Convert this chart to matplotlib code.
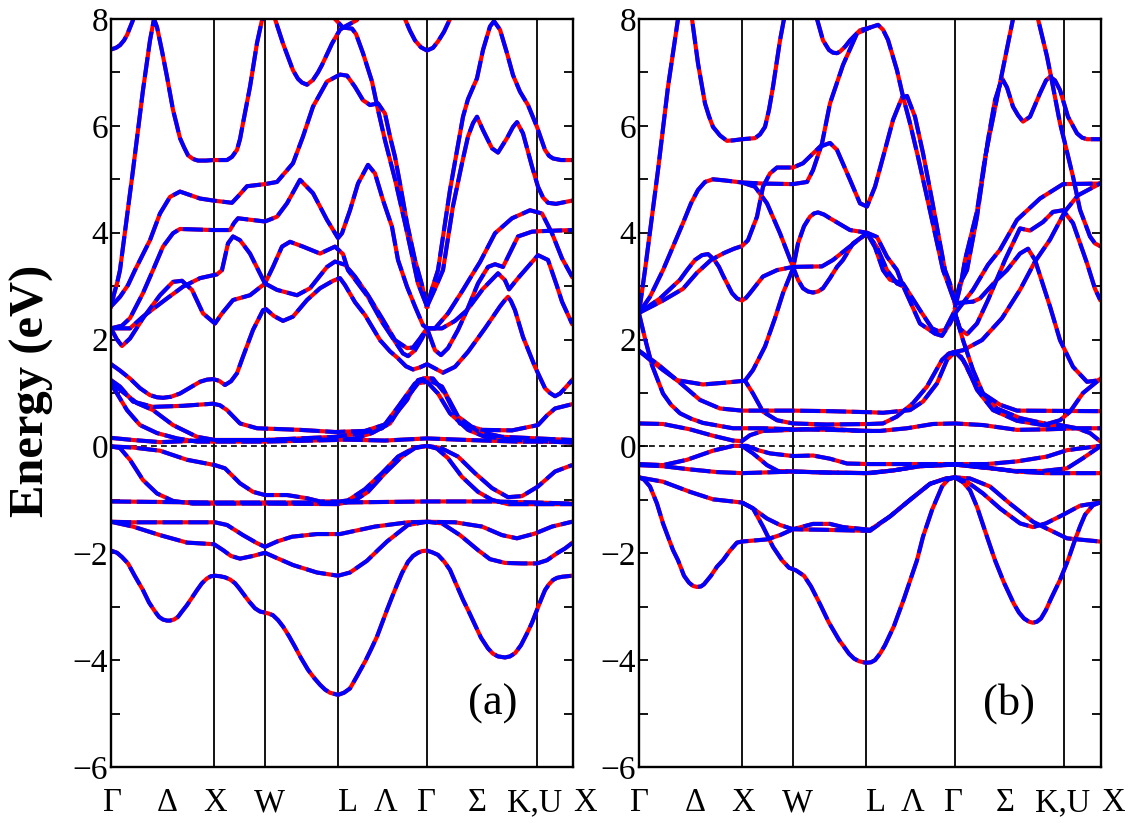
import matplotlib
matplotlib.use('Agg')
import matplotlib.pyplot as plt

plt.rcParams['font.family'] = ['Liberation Serif', 'DejaVu Serif']

# high symmetry points along the path
sym_a = [103, 154, 227, 316, 426]
sym_b = [103, 154, 227, 316, 425]
label_names = ['Γ', 'Δ', 'X', 'W', 'L', 'Λ', 'Γ', 'Σ', 'K,U', 'X']
label_k = [1, 56, 104, 158, 237, 274, 315, 366, 424, 474]
y_major = [-6, -4, -2, 0, 2, 4, 6, 8]
y_minor = [-5, -3, -1, 1, 3, 5, 7]

# panel (a) bands
a01_k = [0, 6, 11, 17, 24, 32, 38, 44, 48, 52, 56, 59, 63, 67, 71, 76, 81, 86, 91, 96, 100, 104, 109, 114, 119, 124, 128, 132, 138, 144, 149, 154, 158, 162, 167, 172, 178, 184, 190, 197, 203, 209, 214, 219, 227, 233, 239, 246, 254, 260, 266, 271, 276, 281, 286, 291, 297, 302, 307, 311, 316, 321, 327, 333, 339, 345, 352, 358, 364, 370, 377, 382, 387, 394, 399, 404, 410, 416, 421, 426, 430, 434, 438, 442, 446, 451, 456, 461]
a01_e = [-1.95, -1.99, -2.07, -2.19, -2.43, -2.69, -2.92, -3.09, -3.19, -3.24, -3.26, -3.26, -3.24, -3.19, -3.09, -2.97, -2.83, -2.69, -2.56, -2.47, -2.43, -2.42, -2.43, -2.45, -2.49, -2.56, -2.65, -2.75, -2.9, -3.03, -3.09, -3.11, -3.13, -3.16, -3.25, -3.37, -3.55, -3.75, -3.96, -4.18, -4.33, -4.46, -4.55, -4.61, -4.65, -4.61, -4.53, -4.3, -4.03, -3.8, -3.56, -3.31, -3.06, -2.82, -2.59, -2.37, -2.16, -2.05, -1.99, -1.96, -1.95, -1.98, -2.03, -2.15, -2.31, -2.57, -2.87, -3.1, -3.34, -3.58, -3.78, -3.88, -3.93, -3.95, -3.93, -3.87, -3.72, -3.5, -3.3, -3.06, -2.87, -2.69, -2.58, -2.5, -2.46, -2.44, -2.43, -2.42]
a02_k = [0, 22, 49, 76, 103, 112, 120, 129, 142, 154, 166, 182, 206, 227, 239, 256, 267, 276, 297, 316, 331, 349, 367, 379, 394, 411, 426, 436, 446, 454, 461]
a02_e = [-1.41, -1.5, -1.66, -1.8, -1.83, -1.94, -2.05, -2.1, -2.05, -1.99, -2.09, -2.22, -2.36, -2.42, -2.36, -2.14, -1.94, -1.78, -1.47, -1.41, -1.44, -1.66, -1.94, -2.11, -2.18, -2.19, -2.19, -2.13, -2.0, -1.91, -1.81]
a03_k = [0, 22, 79, 104, 116, 132, 146, 154, 166, 181, 206, 229, 264, 297, 316, 344, 371, 391, 406, 424, 441, 461]
a03_e = [-1.41, -1.42, -1.42, -1.42, -1.47, -1.66, -1.81, -1.88, -1.78, -1.69, -1.64, -1.64, -1.5, -1.42, -1.41, -1.42, -1.5, -1.66, -1.72, -1.63, -1.5, -1.41]
a04_k = [0, 50, 104, 154, 227, 316, 380, 426, 461]
a04_e = [-1.03, -1.04, -1.05, -1.05, -1.05, -1.03, -1.03, -1.05, -1.07]
a05_k = [0, 9, 19, 32, 46, 62, 82, 104, 154, 227, 244, 257, 274, 291, 304, 316, 326, 337, 351, 367, 381, 397, 424, 461]
a05_e = [0.0, -0.03, -0.25, -0.63, -0.88, -1.02, -1.07, -1.07, -1.07, -1.08, -1.01, -0.85, -0.5, -0.19, -0.03, 0.01, -0.04, -0.22, -0.57, -0.85, -1.0, -1.08, -1.08, -1.08]
a06_k = [0, 22, 49, 76, 104, 114, 129, 142, 154, 176, 196, 209, 229, 237, 254, 271, 287, 304, 316, 330, 347, 364, 381, 397, 411, 427, 444, 461]
a06_e = [0.0, -0.02, -0.08, -0.25, -0.35, -0.41, -0.69, -0.85, -0.91, -0.91, -0.97, -1.03, -1.03, -1.01, -0.8, -0.5, -0.19, -0.02, 0.01, -0.03, -0.19, -0.5, -0.78, -0.95, -0.93, -0.75, -0.47, -0.35]
a07_k = [0, 22, 49, 104, 154, 229, 274, 316, 357, 407, 461]
a07_e = [0.16, 0.12, 0.08, 0.12, 0.12, 0.13, 0.11, 0.15, 0.12, 0.09, 0.09]
a08_k = [0, 6, 16, 29, 46, 66, 86, 104, 154, 224, 244, 261, 279, 294, 307, 316, 327, 339, 357, 374, 407, 461]
a08_e = [1.17, 0.99, 0.68, 0.4, 0.25, 0.15, 0.09, 0.09, 0.09, 0.12, 0.15, 0.25, 0.43, 0.87, 1.18, 1.21, 0.99, 0.62, 0.31, 0.18, 0.12, 0.07]
a09_k = [0, 9, 26, 42, 62, 86, 104, 154, 224, 251, 271, 287, 304, 316, 331, 347, 367, 391, 461]
a09_e = [1.17, 1.06, 0.81, 0.68, 0.4, 0.18, 0.12, 0.12, 0.18, 0.25, 0.34, 0.74, 1.18, 1.26, 1.12, 0.56, 0.28, 0.18, 0.12]
a10_k = [0, 9, 22, 42, 72, 102, 109, 116, 129, 146, 189, 224, 254, 277, 296, 307, 314, 322, 334, 349, 371, 401, 427, 436, 444, 461]
a10_e = [1.24, 1.12, 0.84, 0.74, 0.76, 0.8, 0.77, 0.68, 0.43, 0.34, 0.31, 0.27, 0.29, 0.43, 0.87, 1.24, 1.28, 1.27, 0.99, 0.43, 0.31, 0.3, 0.4, 0.58, 0.71, 0.79]
a11_k = [0, 9, 19, 29, 39, 46, 52, 60, 69, 79, 89, 96, 102, 108, 114, 120, 126, 132, 142, 152, 155, 163, 172, 182, 196, 209, 222, 229, 234, 244, 254, 269, 279, 287, 295, 302, 309, 316, 324, 332, 344, 357, 374, 389, 394, 397, 400, 404, 412, 424, 434, 439, 444, 449, 454, 461]
a11_e = [1.54, 1.42, 1.27, 1.09, 0.96, 0.92, 0.91, 0.93, 0.99, 1.1, 1.21, 1.25, 1.26, 1.23, 1.15, 1.22, 1.37, 1.68, 2.18, 2.55, 2.57, 2.44, 2.35, 2.43, 2.74, 2.96, 3.1, 3.15, 3.02, 2.7, 2.46, 1.99, 1.78, 1.65, 1.5, 1.44, 1.48, 1.54, 1.46, 1.38, 1.49, 1.77, 2.21, 2.62, 2.74, 2.8, 2.72, 2.55, 2.05, 1.49, 1.09, 1.0, 0.94, 0.99, 1.09, 1.24]
a12_k = [0, 6, 11, 19, 32, 49, 62, 71, 81, 92, 104, 111, 122, 139, 154, 166, 186, 199, 216, 224, 234, 244, 257, 271, 284, 296, 302, 309, 316]
a12_e = [2.21, 2.0, 1.88, 2.02, 2.4, 2.83, 3.08, 3.1, 2.93, 2.49, 2.3, 2.49, 2.74, 2.83, 3.05, 2.93, 2.83, 2.96, 3.36, 3.46, 3.4, 3.18, 2.83, 2.4, 1.99, 1.84, 1.85, 2.02, 2.21]
a13_k = [0, 19, 32, 56, 72, 89, 106, 111, 117, 122, 129, 139, 154, 162, 171, 179, 192, 209, 224, 232, 237, 257, 271, 282, 292, 297, 304, 311, 316]
a13_e = [2.21, 2.21, 2.43, 2.77, 2.99, 3.15, 3.22, 3.3, 3.8, 3.93, 3.86, 3.61, 3.05, 3.36, 3.74, 3.83, 3.74, 3.61, 3.74, 3.6, 3.3, 2.8, 2.33, 2.02, 1.74, 1.69, 1.8, 2.02, 2.21]
a14_k = [0, 9, 17, 24, 39, 49, 59, 69, 89, 103, 121, 128, 136, 154, 166, 182, 192, 202, 216, 229, 236, 244, 252, 259, 267, 274, 279, 284, 289, 296, 304, 311, 316]
a14_e = [2.62, 2.8, 3.02, 3.3, 3.86, 4.36, 4.67, 4.77, 4.64, 4.6, 4.56, 4.7, 4.87, 4.91, 4.95, 5.3, 5.8, 6.36, 6.83, 6.96, 6.94, 6.73, 6.48, 6.39, 6.42, 6.23, 5.8, 5.42, 4.92, 4.18, 3.49, 3.02, 2.62]
a15_k = [0, 11, 19, 32, 42, 52, 62, 69, 102, 119, 123, 127, 154, 166, 176, 189, 202, 216, 227, 231, 239, 247, 257, 264, 272, 281, 287, 296, 304, 312, 316]
a15_e = [2.21, 2.26, 2.4, 2.87, 3.3, 3.74, 3.99, 4.07, 4.05, 4.05, 4.18, 4.27, 4.21, 4.3, 4.55, 4.99, 4.74, 4.24, 3.9, 3.99, 4.42, 4.92, 5.27, 5.11, 4.61, 4.11, 3.49, 2.99, 2.62, 2.27, 2.21]
a16_k = [0, 3, 6, 9, 22, 32, 39, 43, 46, 51, 56, 62, 66, 69, 73, 77, 82, 87, 95, 102, 116, 121, 126, 129, 132, 139, 146, 151, 155, 159, 164, 172, 182, 187, 191, 196, 202, 207, 211, 221, 229, 234, 246, 254, 285, 294, 299, 304, 310, 316, 322, 327, 333, 339, 348]
a16_e = [2.62, 2.85, 3.05, 3.3, 5.17, 6.67, 7.6, 8.0, 7.85, 7.4, 6.92, 6.3, 6.0, 5.77, 5.6, 5.45, 5.38, 5.35, 5.35, 5.36, 5.36, 5.42, 5.55, 5.75, 6.05, 6.73, 7.55, 7.98, 8.4, 8.4, 8.0, 7.54, 7.04, 6.88, 6.81, 6.77, 6.86, 7.0, 7.14, 7.54, 7.8, 7.86, 7.98, 8.3, 8.6, 8.0, 7.78, 7.6, 7.47, 7.41, 7.46, 7.58, 7.76, 8.0, 8.6]
a17_k = [0, 5, 9, 13, 16, 22, 30, 215, 220, 224, 232, 241, 245, 252, 261, 267, 274, 284, 294, 302, 307, 316]
a17_e = [7.43, 7.46, 7.51, 7.6, 7.7, 7.98, 9.0, 9.0, 8.3, 8.0, 7.84, 7.82, 7.72, 7.36, 6.83, 6.3, 5.73, 5.0, 4.18, 3.49, 3.05, 2.62]
a18_k = [316, 321, 327, 339, 352, 357, 366, 372, 379, 383, 389, 396, 402, 409, 417, 426, 434, 438, 442, 450, 461]
a18_e = [2.62, 2.95, 3.3, 4.8, 6.17, 6.5, 6.89, 7.42, 7.86, 7.96, 7.8, 7.36, 6.95, 6.64, 6.39, 5.98, 5.55, 5.44, 5.39, 5.36, 5.36]
a19_k = [316, 324, 332, 342, 351, 357, 362, 366, 372, 381, 387, 396, 402, 406, 412, 421, 427, 432, 437, 445, 461]
a19_e = [2.62, 2.95, 3.3, 4.5, 5.3, 5.8, 6.05, 6.17, 5.92, 5.58, 5.5, 5.77, 5.98, 6.07, 5.86, 5.24, 4.86, 4.66, 4.56, 4.54, 4.6]
a20_k = [316, 324, 337, 352, 364, 369, 384, 401, 419, 431, 441, 451, 461]
a20_e = [2.21, 2.21, 2.49, 2.93, 3.3, 3.45, 3.99, 4.27, 4.42, 4.36, 3.99, 3.52, 3.18]
a21_k = [316, 331, 344, 356, 372, 387, 394, 398, 407, 414, 427, 437, 446, 451, 461]
a21_e = [2.21, 2.21, 2.35, 2.55, 2.95, 3.24, 3.11, 2.94, 3.15, 3.3, 3.58, 3.49, 3.0, 2.71, 2.3]
a22_k = [316, 324, 330, 337, 347, 356, 367, 377, 384, 392, 397, 407, 421, 431, 461]
a22_e = [2.21, 1.8, 1.71, 1.84, 2.18, 2.55, 3.05, 3.36, 3.41, 3.36, 3.55, 3.93, 4.02, 4.03, 4.05]

# panel (b) bands
b01_k = [0, 5, 11, 18, 24, 34, 39, 45, 50, 54, 58, 62, 65, 72, 78, 84, 91, 98, 103, 128, 141, 154, 174, 191, 204, 231, 251, 271, 291, 307, 316, 331, 351, 371, 394, 407, 428, 461]
b01_e = [-0.58, -0.62, -0.75, -1.07, -1.44, -1.94, -2.13, -2.42, -2.55, -2.61, -2.63, -2.62, -2.58, -2.42, -2.25, -2.13, -1.95, -1.8, -1.78, -1.74, -1.66, -1.55, -1.45, -1.45, -1.51, -1.56, -1.31, -1.0, -0.7, -0.6, -0.58, -0.6, -0.75, -1.07, -1.41, -1.53, -1.72, -1.78]
b02_k = [0, 24, 51, 74, 103, 114, 128, 141, 154, 184, 231, 251, 271, 291, 307, 316, 328, 344, 361, 381, 394, 407, 424, 441, 461]
b02_e = [-0.58, -0.66, -0.85, -0.99, -1.05, -1.16, -1.35, -1.47, -1.55, -1.56, -1.58, -1.31, -1.0, -0.7, -0.6, -0.58, -0.66, -0.88, -1.16, -1.44, -1.51, -1.44, -1.28, -1.11, -1.05]
b03_k = [103, 114, 124, 134, 143, 150, 157, 165, 172, 181, 190, 200, 210, 215, 220, 227, 232, 236, 241, 246, 255, 265, 278, 284, 293, 303, 309, 316, 324, 331, 338, 348, 356, 365, 375, 380, 385, 390, 394, 398, 402, 407, 412, 421, 429, 436, 441, 446, 454, 461]
b03_e = [-1.05, -1.16, -1.5, -1.88, -2.13, -2.27, -2.32, -2.42, -2.62, -2.95, -3.3, -3.62, -3.88, -3.97, -4.02, -4.05, -4.04, -4.0, -3.88, -3.72, -3.36, -2.85, -2.13, -1.69, -1.19, -0.75, -0.62, -0.58, -0.67, -0.82, -1.13, -1.69, -2.13, -2.55, -2.95, -3.11, -3.22, -3.28, -3.3, -3.28, -3.22, -3.06, -2.85, -2.5, -2.13, -1.75, -1.5, -1.28, -1.1, -1.05]
b04_k = [0, 24, 51, 78, 103, 138, 154, 191, 231, 254, 281, 316, 354, 377, 407, 461]
b04_e = [-0.35, -0.37, -0.43, -0.48, -0.5, -0.48, -0.47, -0.49, -0.5, -0.45, -0.37, -0.34, -0.41, -0.47, -0.5, -0.5]
b05_k = [0, 24, 48, 74, 94, 108, 119, 131, 154, 174, 191, 208, 231, 288, 316, 348, 378, 408, 428, 461]
b05_e = [-0.33, -0.35, -0.25, -0.08, 0.01, 0.01, -0.07, -0.13, -0.18, -0.17, -0.23, -0.32, -0.33, -0.33, -0.33, -0.33, -0.28, -0.19, -0.07, 0.01]
b06_k = [103, 114, 128, 139, 154, 190, 227, 254, 281, 316, 351, 377, 404, 428, 444, 461]
b06_e = [0.01, -0.13, -0.35, -0.46, -0.47, -0.49, -0.5, -0.45, -0.37, -0.34, -0.41, -0.46, -0.46, -0.41, -0.22, 0.0]
b07_k = [0, 24, 51, 74, 94, 103, 111, 124, 154, 184, 221, 241, 268, 294, 316, 344, 378, 408, 438, 461]
b07_e = [0.43, 0.42, 0.32, 0.2, 0.11, 0.1, 0.21, 0.29, 0.31, 0.34, 0.29, 0.29, 0.34, 0.42, 0.43, 0.4, 0.31, 0.32, 0.34, 0.34]
b08_k = [0, 11, 24, 38, 64, 84, 106, 114, 124, 138, 154, 188, 231, 244, 258, 274, 288, 303, 310, 316, 322, 328, 338, 354, 378, 404, 421, 438, 451, 461]
b08_e = [1.79, 1.62, 1.43, 1.24, 1.16, 1.19, 1.23, 0.99, 0.65, 0.49, 0.43, 0.41, 0.42, 0.43, 0.56, 0.81, 1.12, 1.62, 1.74, 1.77, 1.68, 1.49, 1.06, 0.68, 0.48, 0.4, 0.4, 0.34, 0.25, 0.1]
b09_k = [0, 6, 13, 24, 32, 41, 52, 64, 94, 124, 154, 191, 231]
b09_e = [2.49, 2.02, 1.52, 0.99, 0.78, 0.62, 0.52, 0.44, 0.34, 0.34, 0.32, 0.31, 0.29]
b10_k = [0, 18, 38, 61, 81, 103, 154, 191, 231, 244, 271, 284, 298, 308, 316, 324, 334, 344, 361, 378, 461]
b10_e = [1.79, 1.55, 1.24, 0.87, 0.71, 0.67, 0.67, 0.66, 0.64, 0.63, 0.68, 0.84, 1.18, 1.62, 1.77, 1.62, 1.24, 0.99, 0.78, 0.67, 0.66]
b11_k = [316, 324, 334, 344, 358, 381, 408, 421, 431, 444, 461]
b11_e = [2.49, 1.99, 1.43, 0.99, 0.71, 0.53, 0.42, 0.49, 0.65, 1.0, 1.26]
b12_k = [106, 114, 126, 136, 144, 154, 159, 165, 171, 175, 179, 185, 191, 211, 228, 238, 248, 258, 263, 281, 296, 303, 311, 316]
b12_e = [1.23, 1.43, 1.87, 2.4, 2.87, 3.33, 3.8, 4.12, 4.3, 4.36, 4.38, 4.34, 4.27, 4.05, 4.0, 3.92, 3.55, 3.3, 3.05, 2.3, 2.11, 2.07, 2.3, 2.49]
b13_k = [0, 21, 41, 48, 56, 63, 69, 75, 80, 84, 93, 98, 103, 107, 111, 124, 138, 154, 159, 164, 169, 174, 179, 184, 191, 198, 204, 214, 228, 236, 244, 251, 264, 281, 293, 299, 306, 316]
b13_e = [2.5, 2.77, 3.12, 3.3, 3.49, 3.58, 3.6, 3.5, 3.36, 3.2, 2.87, 2.77, 2.73, 2.78, 2.87, 3.18, 3.3, 3.36, 3.12, 2.96, 2.9, 2.88, 2.9, 2.96, 3.15, 3.36, 3.49, 3.8, 3.99, 3.73, 3.3, 3.12, 3.05, 2.55, 2.21, 2.16, 2.18, 2.55]
b14_k = [0, 23, 44, 58, 72, 85, 95, 103, 109, 118, 124, 131, 138, 154, 164, 181, 191, 198, 211, 221, 228, 236, 246, 254, 263, 268, 276, 284, 293, 301, 306, 311, 316]
b14_e = [2.5, 2.72, 2.95, 3.25, 3.49, 3.62, 3.7, 3.75, 3.86, 4.3, 4.86, 5.11, 5.22, 5.22, 5.3, 5.61, 5.68, 5.55, 4.99, 4.55, 4.49, 4.86, 5.55, 6.11, 6.53, 6.56, 6.17, 5.49, 4.61, 3.8, 3.3, 3.05, 2.68]
b15_k = [103, 116, 128, 141, 154, 183, 194, 208, 228, 238, 248, 258, 264]
b15_e = [4.94, 4.86, 4.55, 3.99, 3.36, 3.37, 3.49, 3.7, 3.99, 3.73, 3.3, 3.05, 3.0]
b16_k = [0, 3, 6, 19, 29, 39, 44, 53, 59, 66, 70, 74, 81, 88, 95, 103, 116, 121, 126, 130, 134, 141, 145, 150, 178, 184, 190, 194, 198, 201, 206, 211, 221, 231, 239, 244, 249, 258, 264, 271, 279, 287, 297, 304, 309, 316]
b16_e = [2.5, 2.9, 3.3, 5.17, 6.73, 8.0, 8.6, 8.0, 7.17, 6.42, 6.18, 5.98, 5.82, 5.72, 5.73, 5.75, 5.77, 5.84, 5.98, 6.3, 6.73, 7.6, 8.0, 8.6, 8.0, 7.6, 7.42, 7.37, 7.36, 7.39, 7.48, 7.6, 7.79, 7.84, 7.89, 7.8, 7.61, 7.04, 6.55, 6.05, 5.42, 4.75, 3.9, 3.3, 3.05, 2.68]
b17_k = [0, 11, 24, 44, 52, 59, 66, 74, 85, 103, 124, 154, 168, 174, 183, 191, 204, 218, 231]
b17_e = [2.5, 2.8, 3.3, 4.18, 4.55, 4.8, 4.95, 5.0, 4.98, 4.94, 4.92, 4.91, 4.95, 5.17, 5.67, 6.42, 7.14, 7.73, 7.84]
b18_k = [316, 334, 349, 361, 378, 401, 424, 461]
b18_e = [2.49, 2.93, 3.4, 3.68, 4.24, 4.64, 4.91, 4.92]
b19_k = [316, 321, 328, 338, 349, 359, 366, 381, 391, 404, 414, 424, 434, 448, 456, 461]
b19_e = [2.49, 2.2, 2.1, 2.3, 2.74, 3.18, 3.49, 4.08, 4.04, 4.2, 4.39, 4.42, 4.18, 3.43, 2.95, 2.75]
b20_k = [316, 334, 341, 358, 368, 381, 389, 396, 411, 421, 434, 448, 461]
b20_e = [2.68, 2.71, 2.77, 3.12, 3.3, 3.61, 3.7, 3.49, 2.62, 1.99, 1.49, 1.21, 1.24]
b21_k = [310, 316, 324, 343, 363, 381, 396, 411, 426, 439, 461]
b21_e = [1.73, 1.77, 1.8, 1.99, 2.4, 2.93, 3.46, 3.87, 4.4, 4.7, 4.92]
b22_k = [316, 321, 328, 338, 349, 356, 363, 368, 374, 379, 384, 391, 401, 407, 411, 416, 421, 429, 438, 443, 448, 461]
b22_e = [2.68, 3.05, 3.3, 4.3, 5.74, 6.48, 6.89, 6.72, 6.36, 6.2, 6.08, 6.17, 6.61, 6.85, 6.92, 6.85, 6.67, 6.17, 5.86, 5.78, 5.75, 5.75]
b23_k = [316, 322, 326, 338, 346, 362, 374, 385, 395, 399, 408, 413, 421, 426, 434, 441, 451, 456, 461]
b23_e = [2.6, 3.05, 3.49, 4.4, 5.4, 6.89, 8.0, 9.0, 8.4, 8.0, 7.3, 6.83, 6.05, 5.67, 5.05, 4.43, 3.93, 3.8, 3.75]

bands_a = [(a01_k, a01_e), (a02_k, a02_e), (a03_k, a03_e), (a04_k, a04_e), (a05_k, a05_e), (a06_k, a06_e),
           (a07_k, a07_e), (a08_k, a08_e), (a09_k, a09_e), (a10_k, a10_e), (a11_k, a11_e), (a12_k, a12_e),
           (a13_k, a13_e), (a14_k, a14_e), (a15_k, a15_e), (a16_k, a16_e), (a17_k, a17_e), (a18_k, a18_e),
           (a19_k, a19_e), (a20_k, a20_e), (a21_k, a21_e), (a22_k, a22_e)]
bands_b = [(b01_k, b01_e), (b02_k, b02_e), (b03_k, b03_e), (b04_k, b04_e), (b05_k, b05_e), (b06_k, b06_e),
           (b07_k, b07_e), (b08_k, b08_e), (b09_k, b09_e), (b10_k, b10_e), (b11_k, b11_e), (b12_k, b12_e),
           (b13_k, b13_e), (b14_k, b14_e), (b15_k, b15_e), (b16_k, b16_e), (b17_k, b17_e), (b18_k, b18_e),
           (b19_k, b19_e), (b20_k, b20_e), (b21_k, b21_e), (b22_k, b22_e), (b23_k, b23_e)]


def draw_panel(ax, bands, sym, tag, tag_x):
    for k in sym:
        ax.axvline(k, color='black', lw=1.3, zorder=1)
    ax.axhline(0, color='black', lw=1.2, dashes=(3.5, 2.5), zorder=1)

    # red solid line with the blue dashed one on top
    for k, e in bands:
        ax.plot(k, e, color='red', lw=3.0, zorder=2, solid_joinstyle='round')
    for k, e in bands:
        ax.plot(k, e, color='blue', lw=2.9, dashes=(5.0, 1.4), zorder=3,
                dash_joinstyle='round', dash_capstyle='butt')

    ax.set_xlim(0, 462)
    ax.set_ylim(-6, 8)
    ax.set_xticks([])
    ax.set_yticks(y_major)
    ax.set_yticks(y_minor, minor=True)
    ax.tick_params(axis='y', which='both', direction='in', left=True, right=True,
                   length=6.5, width=1.3, labelsize=24, pad=2)
    for s in ax.spines.values():
        s.set_linewidth(1.7)
        s.set_zorder(5)

    for k, name in zip(label_k, label_names):
        ax.text(k, -0.048, name, transform=ax.get_xaxis_transform(), ha='center', va='center',
                fontsize=23.5, clip_on=False)
    ax.text(tag_x, 0.085, tag, transform=ax.transAxes, ha='center', va='center', fontsize=32)


W, H = 1129, 823
fig = plt.figure(figsize=(W / 100, H / 100), dpi=100)
ax1 = fig.add_axes([111 / W, 1 - 767 / H, 462 / W, 748 / H])
ax2 = fig.add_axes([639 / W, 1 - 767 / H, 462 / W, 748 / H])

draw_panel(ax1, bands_a, sym_a, '(a)', 0.827)
draw_panel(ax2, bands_b, sym_b, '(b)', 0.80)

fig.text(32 / W, 1 - 391 / H, 'Energy (eV)', rotation=90, ha='center', va='center',
         fontsize=35, fontweight='bold')

fig.savefig('out.png', dpi=100)
